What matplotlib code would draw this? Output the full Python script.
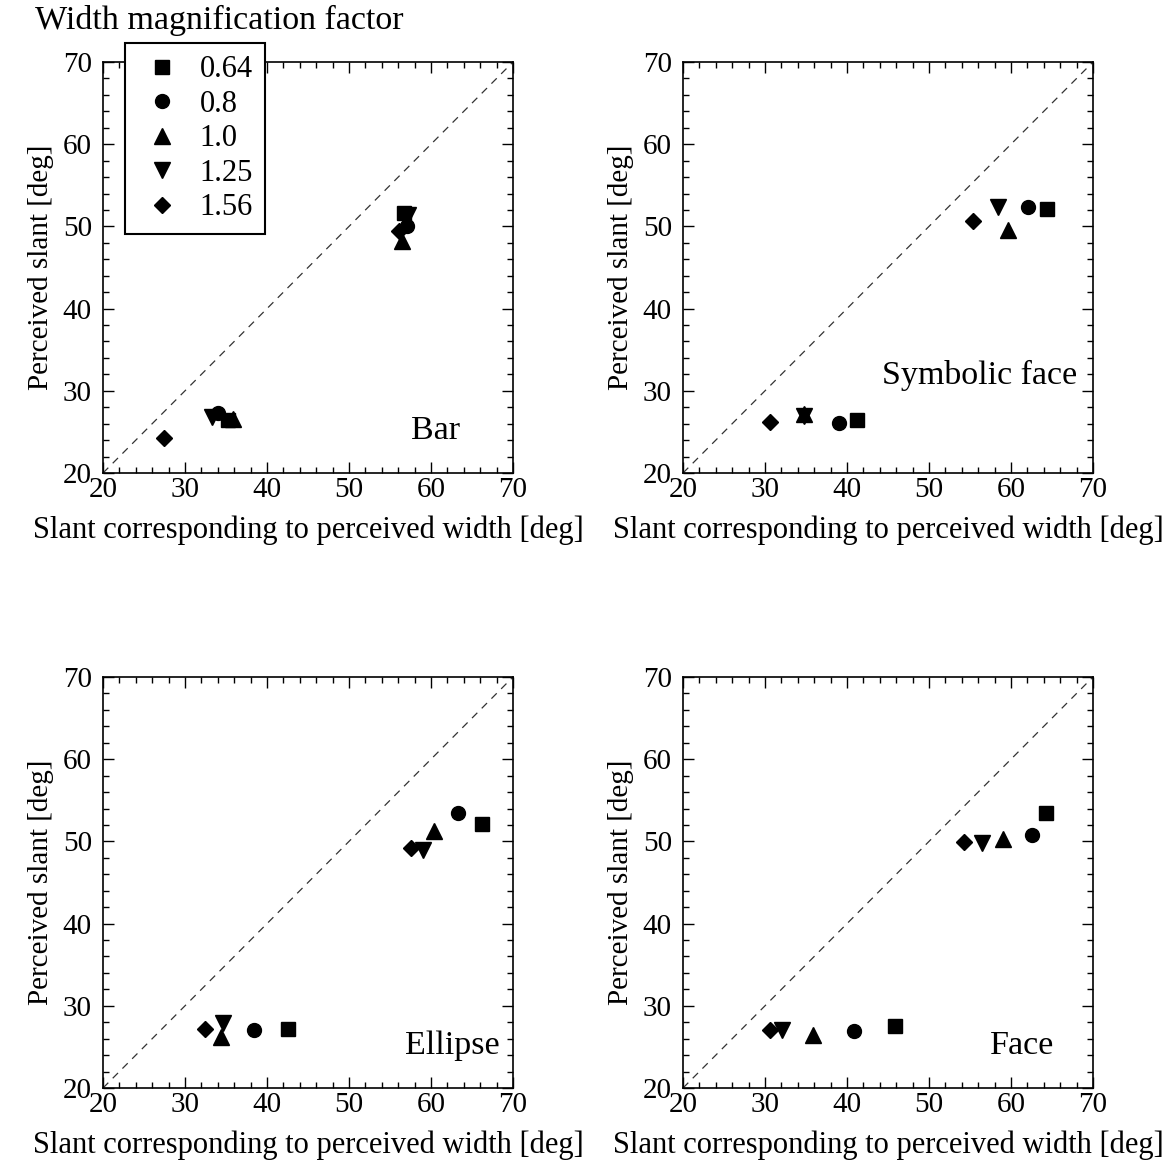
import matplotlib.pyplot as plt
from matplotlib.ticker import MultipleLocator

plt.rcParams['font.family'] = ['Liberation Serif', 'DejaVu Serif']

factors = ["0.64", "0.8", "1.0", "1.25", "1.56"]
markers = ["s", "o", "^", "v", "D"]
msizes = [10, 10, 11, 11, 8.5]

# x: slant from perceived width, y: perceived slant (low slant, high slant)
bar_x = [[35.2, 56.7], [34.0, 57.1], [35.9, 56.5], [33.3, 57.2], [27.4, 56.1]]
bar_y = [[26.4, 51.6], [27.3, 50.1], [26.6, 48.2], [26.8, 51.4], [24.2, 49.4]]

sym_x = [[41.2, 64.4], [39.0, 62.1], [34.8, 59.6], [34.8, 58.4], [30.6, 55.4]]
sym_y = [[26.4, 52.1], [26.1, 52.4], [27.2, 49.6], [26.9, 52.4], [26.2, 50.6]]

ell_x = [[42.6, 66.2], [38.4, 63.3], [34.4, 60.4], [34.6, 59.0], [32.4, 57.6]]
ell_y = [[27.2, 52.1], [27.1, 53.5], [26.2, 51.3], [27.9, 49.0], [27.2, 49.2]]

face_x = [[45.9, 64.3], [40.9, 62.6], [35.9, 59.0], [32.1, 56.5], [30.6, 54.3]]
face_y = [[27.6, 53.4], [26.9, 50.8], [26.4, 50.3], [27.1, 49.8], [27.1, 49.9]]

panels = [
    ("Bar", bar_x, bar_y, (60.5, 25.2)),
    ("Symbolic face", sym_x, sym_y, (56.2, 31.9)),
    ("Ellipse", ell_x, ell_y, (62.6, 25.1)),
    ("Face", face_x, face_y, (61.3, 25.1)),
]

fig = plt.figure(figsize=(11.75, 11.66), dpi=100)
W, H = 1175, 1166
boxes = [(103, 62), (683, 62), (103, 677), (683, 677)]
aw, ah = 410, 411

axes = []
for (name, xs, ys, lab), (px, py) in zip(panels, boxes):
    ax = fig.add_axes([px / W, 1 - (py + ah) / H, aw / W, ah / H])
    ax.plot([20, 70], [20, 70], ls=(0, (6, 5)), color="#333333", lw=0.9)
    for i in range(len(factors)):
        ax.plot(xs[i], ys[i], ls="none", marker=markers[i], ms=msizes[i],
                color="black", label=factors[i])
    ax.set_xlim(20, 70)
    ax.set_ylim(20, 70)
    ax.xaxis.set_major_locator(MultipleLocator(10))
    ax.yaxis.set_major_locator(MultipleLocator(10))
    ax.xaxis.set_minor_locator(MultipleLocator(2))
    ax.yaxis.set_minor_locator(MultipleLocator(2))
    ax.tick_params(which="both", direction="in", top=True, right=True,
                   labelsize=21, width=1.0)
    ax.tick_params(which="major", length=8)
    ax.tick_params(axis="x", which="major", pad=3)
    ax.tick_params(axis="y", which="major", pad=8)
    ax.tick_params(which="minor", length=4.5)
    for s in ax.spines.values():
        s.set_linewidth(1.2)
    ax.set_xlabel("Slant corresponding to perceived width [deg]", fontsize=22, labelpad=9)
    ax.set_ylabel("Perceived slant [deg]", fontsize=21, labelpad=6)
    ax.text(lab[0], lab[1], name, fontsize=24.5, ha="center", va="center")
    axes.append(ax)

leg = axes[0].legend(loc="upper left", bbox_to_anchor=(125 / W, 1 - 43 / H),
                     bbox_transform=fig.transFigure, fontsize=22,
                     frameon=True, fancybox=False, edgecolor="black",
                     framealpha=1, handletextpad=0.45, labelspacing=0.18,
                     borderpad=0.4, borderaxespad=0, handlelength=1.6)
leg.get_frame().set_linewidth(1.5)
leg.set_zorder(5)
fig.text(219 / W, 1 - 20 / H, "Width magnification factor", fontsize=24.5,
         ha="center", va="center")

fig.savefig("out.png", dpi=100)
